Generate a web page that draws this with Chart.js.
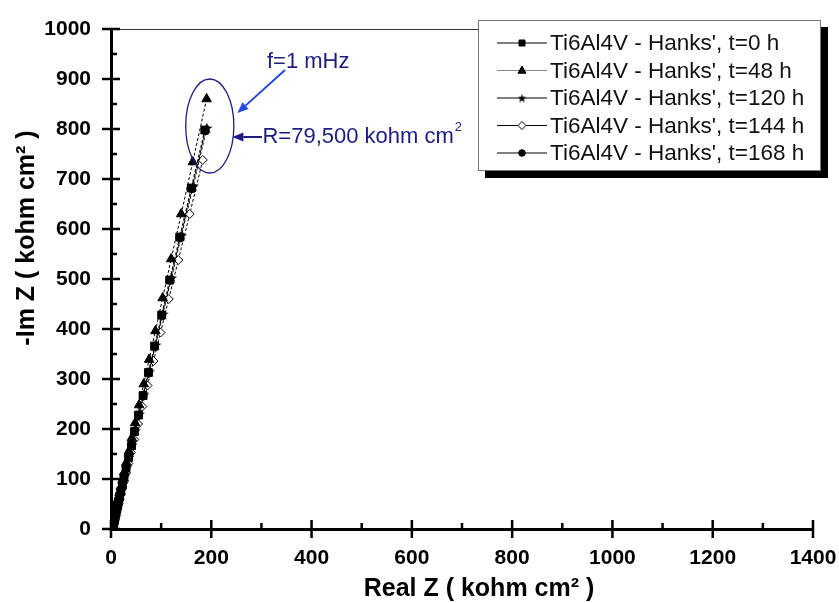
<!DOCTYPE html>
<html>
<head>
<meta charset="utf-8">
<script src="https://cdn.jsdelivr.net/npm/chart.js@4/dist/chart.umd.min.js"></script>
<style>
  html, body { margin: 0; padding: 0; background: #fff; }
  canvas { display: block; }
</style>
</head>
<body>
<canvas id="nyquist" width="839" height="603"></canvas>
<script>
// Nyquist data, Ti6Al4V in Hanks' solution (kohm cm2)
const LEGEND_LABELS = [
  "Ti6Al4V - Hanks', t=0 h",
  "Ti6Al4V - Hanks', t=48 h",
  "Ti6Al4V - Hanks', t=120 h",
  "Ti6Al4V - Hanks', t=144 h",
  "Ti6Al4V - Hanks', t=168 h"
];

const X_TICKS = [0, 200, 400, 600, 800, 1000, 1200, 1400];
const Y_TICKS = [0, 100, 200, 300, 400, 500, 600, 700, 800, 900, 1000];

// t = 0 h
const re_0h = [187, 160, 137, 117, 101, 87, 74.6, 64, 55, 47, 41, 35, 30, 26, 22.5, 19.6, 17, 14.8, 12.9, 11.3, 9.9, 8.7, 7.6, 6.6, 5.9, 5.2, 4.6, 4.1, 3.6, 3.2, 2.8, 2.5, 2.2];
const im_0h = [798, 682, 584, 498, 428, 366, 313, 267, 228, 195, 167, 143, 122, 104, 89, 76, 65, 55, 47, 40, 34, 29, 24, 20, 17, 14, 11, 9, 7, 5, 3, 2, 1];
// t = 48 h
const re_48h = [190.7, 163, 140, 120, 103, 88.6, 76, 65.3, 56, 48.1, 41.5, 35.8, 30.8, 26.6, 23.1, 20, 17.3, 14.9, 12.9, 11.4, 9.9, 8.8, 7.7, 6.8, 5.9, 5.2, 4.6, 3.9, 3.5, 3.0, 2.6, 2.2, 1.9, 1.7];
const im_48h = [860, 734, 630, 540, 462, 396, 339, 290, 248, 212, 182, 156, 133, 114, 98, 84, 72, 61, 52, 45, 38, 33, 28, 24, 20, 17, 14, 11, 9, 7, 5, 3, 2, 1];
// t = 120 h
const re_120h = [191, 164, 140.5, 120.5, 103.5, 88.8, 76.3, 65.5, 56.3, 48.5, 41.6, 36, 31, 26.8, 23.2, 20.2, 17.6, 15.2, 13.3, 11.7, 10.3, 9.1, 7.9, 7, 6.2, 5.5, 4.8, 4.1, 3.7, 3.2, 2.7, 2.5, 2.2];
const im_120h = [802, 686, 587, 502, 430, 368, 315, 269, 230, 197, 168, 144, 123, 105, 90, 77, 66, 56, 48, 41, 35, 30, 25, 21, 18, 15, 12, 9, 7, 5, 3, 2, 1];
// t = 144 h
const re_144h = [183, 157, 134.3, 115.2, 98.8, 84.8, 72.8, 62.5, 54, 46.4, 40, 34.6, 30, 26, 22.6, 19.7, 17.2, 15, 13.3, 11.6, 10.3, 9.1, 8.1, 7.4, 6.7, 5.9, 5.2, 4.7, 4.2, 3.7, 3.2, 3.0, 2.7];
const im_144h = [738, 630, 538, 460, 393, 336, 287, 245, 210, 179, 153, 131, 112, 96, 82, 70, 60, 51, 44, 37, 32, 27, 23, 20, 17, 14, 11, 9, 7, 5, 3, 2, 1];
// t = 168 h
const re_168h = [188, 161, 138, 118.3, 101.7, 87.2, 74.8, 64.2, 55.1, 47.4, 40.8, 35.2, 30.3, 26.1, 22.6, 19.6, 17, 14.9, 13, 11.4, 10, 8.8, 7.6, 6.7, 6, 5.3, 4.6, 4.1, 3.6, 3.2, 2.7, 2.5, 2.2];
const im_168h = [796, 680, 582, 497, 426, 364, 311, 266, 227, 194, 166, 142, 121, 103, 88, 75, 64, 55, 47, 40, 34, 29, 24, 20, 17, 14, 11, 9, 7, 5, 3, 2, 1];

const FONT = "'Liberation Sans', Arial, sans-serif";
const NAVY = 'rgb(28,28,130)';
const BLUE = 'rgb(35,70,225)';

// filled 5 point star as a point image
function makeStar(size) {
  const c = document.createElement('canvas');
  c.width = size; c.height = size;
  const g = c.getContext('2d');
  const cx = size / 2, cy = size / 2 + 0.5, R = size / 2, r = R * 0.42;
  g.beginPath();
  for (let i = 0; i < 10; i++) {
    const a = -Math.PI / 2 + i * Math.PI / 5;
    const rr = i % 2 === 0 ? R : r;
    g.lineTo(cx + rr * Math.cos(a), cy + rr * Math.sin(a));
  }
  g.closePath();
  g.fillStyle = '#000';
  g.fill();
  return c;
}
const starBig = makeStar(12);
const starSmall = makeStar(9);

function pts(xs, ys) {
  return xs.map((x, i) => ({ x: x, y: ys[i] }));
}

const STYLES = [
  { pointStyle: 'rect', radius: 5.5, fill: '#000', legendRadius: 4, line: '#000' },
  { pointStyle: 'triangle', radius: 5.5, fill: '#000', legendRadius: 4.5, line: '#888' },
  { pointStyle: starBig, radius: 5, fill: '#000', legendRadius: 4, line: '#000', legendImg: starSmall },
  { pointStyle: 'rectRot', radius: 4.5, fill: '#fff', legendRadius: 4, line: '#000' },
  { pointStyle: 'circle', radius: 3.8, fill: '#000', legendRadius: 3.3, line: '#000' }
];
const SERIES = [pts(re_0h, im_0h), pts(re_48h, im_48h), pts(re_120h, im_120h), pts(re_144h, im_144h), pts(re_168h, im_168h)];

const datasets = SERIES.map((d, i) => ({
  label: LEGEND_LABELS[i],
  data: d,
  showLine: true,
  borderColor: '#000',
  borderWidth: 1,
  borderDash: [3, 2],
  pointStyle: STYLES[i].pointStyle,
  pointRadius: STYLES[i].radius,
  pointBackgroundColor: STYLES[i].fill,
  pointBorderColor: '#000',
  pointBorderWidth: 1
}));

// draw one legend marker
function drawMarker(ctx, st, x, y) {
  ctx.save();
  ctx.fillStyle = st.fill;
  ctx.strokeStyle = '#000';
  ctx.lineWidth = 1;
  const r = st.legendRadius;
  ctx.beginPath();
  if (st.pointStyle === 'rect') {
    ctx.rect(x - r * 0.75, y - r * 0.75, r * 1.5, r * 1.5);
  } else if (st.pointStyle === 'triangle') {
    ctx.moveTo(x, y - r);
    ctx.lineTo(x + r * 0.9, y + r * 0.6);
    ctx.lineTo(x - r * 0.9, y + r * 0.6);
    ctx.closePath();
  } else if (st.pointStyle === 'rectRot') {
    ctx.moveTo(x, y - r); ctx.lineTo(x + r, y); ctx.lineTo(x, y + r); ctx.lineTo(x - r, y);
    ctx.closePath();
  } else if (st.pointStyle === 'circle') {
    ctx.arc(x, y, r, 0, Math.PI * 2);
  } else {
    ctx.drawImage(st.legendImg, x - st.legendImg.width / 2, y - st.legendImg.height / 2);
    ctx.restore();
    return;
  }
  ctx.fill();
  ctx.stroke();
  ctx.restore();
}

function arrow(ctx, x1, y1, x2, y2, color) {
  const a = Math.atan2(y2 - y1, x2 - x1);
  const len = 11, w = 4.5;
  ctx.save();
  ctx.strokeStyle = color; ctx.fillStyle = color; ctx.lineWidth = 2;
  ctx.beginPath();
  ctx.moveTo(x1, y1);
  ctx.lineTo(x2 - len * Math.cos(a), y2 - len * Math.sin(a));
  ctx.stroke();
  ctx.beginPath();
  ctx.moveTo(x2, y2);
  ctx.lineTo(x2 - len * Math.cos(a) - w * Math.sin(a), y2 - len * Math.sin(a) + w * Math.cos(a));
  ctx.lineTo(x2 - len * Math.cos(a) + w * Math.sin(a), y2 - len * Math.sin(a) - w * Math.cos(a));
  ctx.closePath();
  ctx.fill();
  ctx.restore();
}

const decorPlugin = {
  id: 'decor',
  beforeDatasetsDraw(chart) {
    const { ctx, chartArea: ca, scales: { x, y } } = chart;
    ctx.save();
    // top frame line
    ctx.strokeStyle = '#333';
    ctx.lineWidth = 1;
    ctx.beginPath();
    ctx.moveTo(ca.left, ca.top + 0.5);
    ctx.lineTo(ca.right, ca.top + 0.5);
    ctx.stroke();
    // ticks
    ctx.strokeStyle = '#000';
    ctx.lineWidth = 2.5;
    ctx.beginPath();
    Y_TICKS.forEach(v => {
      const py = y.getPixelForValue(v);
      ctx.moveTo(ca.left - 9, py); ctx.lineTo(ca.left + 9, py);
      if (v < 1000) {
        const pm = y.getPixelForValue(v + 50);
        ctx.moveTo(ca.left, pm); ctx.lineTo(ca.left + 6, pm);
      }
    });
    X_TICKS.forEach(v => {
      const px = x.getPixelForValue(v);
      ctx.moveTo(px, ca.bottom - 9); ctx.lineTo(px, ca.bottom + 9);
      if (v < 1400) {
        const pm = x.getPixelForValue(v + 100);
        ctx.moveTo(pm, ca.bottom); ctx.lineTo(pm, ca.bottom - 6);
      }
    });
    ctx.stroke();

    // axis titles
    ctx.fillStyle = '#000';
    ctx.font = 'bold 25px ' + FONT;
    ctx.textAlign = 'center';
    ctx.textBaseline = 'middle';
    ctx.fillText('Real Z ( kohm cm\u00B2 )', 479, 589);
    ctx.translate(27, 238);
    ctx.rotate(-Math.PI / 2);
    ctx.fillText('-Im Z ( kohm cm\u00B2 )', 0, 0);
    ctx.restore();
  },
  afterDraw(chart) {
    const { ctx, scales: { x, y } } = chart;
    ctx.save();
    // annotation: ellipse round the 1 mHz points
    const ex = x.getPixelForValue(197), ey = y.getPixelForValue(806);
    const rx = x.getPixelForValue(197 + 48) - ex, ry = ey - y.getPixelForValue(806 + 94);
    ctx.strokeStyle = NAVY;
    ctx.lineWidth = 1.3;
    ctx.beginPath();
    ctx.ellipse(ex, ey, rx, ry, 0, 0, Math.PI * 2);
    ctx.stroke();

    arrow(ctx, x.getPixelForValue(347), y.getPixelForValue(918), x.getPixelForValue(252), y.getPixelForValue(832), BLUE);
    arrow(ctx, x.getPixelForValue(301), y.getPixelForValue(784), x.getPixelForValue(242), y.getPixelForValue(784), NAVY);

    ctx.fillStyle = NAVY;
    ctx.font = '22px ' + FONT;
    ctx.textAlign = 'left';
    ctx.textBaseline = 'middle';
    ctx.fillText('f=1 mHz', x.getPixelForValue(311), y.getPixelForValue(934));
    const rxp = x.getPixelForValue(302), ryp = y.getPixelForValue(784);
    const rTxt = 'R=79,500 kohm cm';
    ctx.fillText(rTxt, rxp, ryp);
    const w = ctx.measureText(rTxt).width;
    ctx.font = '13px ' + FONT;
    ctx.fillText('2', rxp + w + 1, ryp - 10);

    // legend box with shadow
    const lx = 478, ly = 20, lw = 343, lh = 151;
    ctx.fillStyle = '#000';
    ctx.fillRect(lx + 7, ly + 7, lw, lh);
    ctx.fillStyle = '#fff';
    ctx.fillRect(lx, ly, lw, lh);
    ctx.strokeStyle = '#777';
    ctx.lineWidth = 1;
    ctx.strokeRect(lx + 0.5, ly + 0.5, lw - 1, lh - 1);

    ctx.font = '22.5px ' + FONT;
    ctx.textBaseline = 'middle';
    LEGEND_LABELS.forEach((lab, i) => {
      const rowY = 43 + i * 27.5;
      ctx.strokeStyle = STYLES[i].line;
      ctx.lineWidth = 1.2;
      ctx.beginPath();
      ctx.moveTo(497, rowY); ctx.lineTo(547, rowY);
      ctx.stroke();
      drawMarker(ctx, STYLES[i], 522, rowY);
      ctx.fillStyle = '#111';
      ctx.fillText(lab, 550, rowY + 1);
    });
    ctx.restore();
  }
};

new Chart(document.getElementById('nyquist').getContext('2d'), {
  type: 'scatter',
  data: { datasets: datasets },
  options: {
    responsive: false,
    animation: false,
    devicePixelRatio: 1,
    layout: { padding: { top: 29, right: 26, left: 0, bottom: 0 } },
    plugins: { legend: { display: false }, tooltip: { enabled: false } },
    scales: {
      x: {
        type: 'linear',
        min: 0, max: 1400,
        afterBuildTicks: (s) => { s.ticks = X_TICKS.map(v => ({ value: v })); },
        afterFit: (s) => { s.height = 74; s.paddingLeft = 0; s.paddingRight = 0; },
        grid: { display: false },
        border: { display: true, color: '#000', width: 3 },
        ticks: { color: '#000', padding: 9, callback: v => String(v), font: { family: FONT, size: 21, weight: 'bold' } }
      },
      y: {
        type: 'linear',
        min: 0, max: 1000,
        afterBuildTicks: (s) => { s.ticks = Y_TICKS.map(v => ({ value: v })); },
        afterFit: (s) => { s.width = 111; s.paddingTop = 0; s.paddingBottom = 0; },
        grid: { display: false },
        border: { display: true, color: '#000', width: 3 },
        ticks: { color: '#000', padding: 12, callback: v => String(v), font: { family: FONT, size: 21, weight: 'bold' } }
      }
    }
  },
  plugins: [decorPlugin]
});
</script>
</body>
</html>
